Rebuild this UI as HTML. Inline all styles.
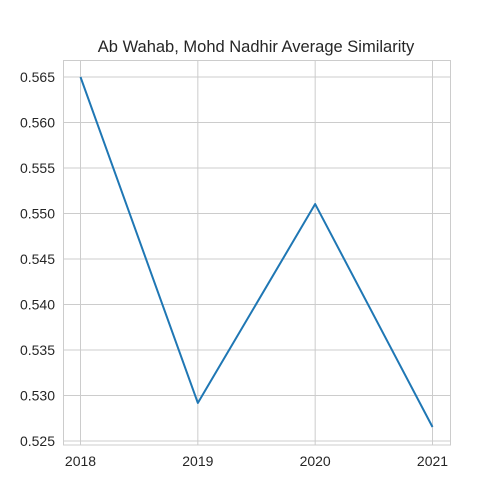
<!DOCTYPE html>
<html><head><meta charset="utf-8"><style>
body{margin:0;background:#fff;}
svg{display:block;font-family:"Liberation Sans",sans-serif;}
</style></head><body>
<svg id="chart" width="500" height="500">
<rect width="500" height="500" fill="#fff"/>
<text x="256" y="52" text-anchor="middle" font-size="16.5" fill="#262626">Ab Wahab, Mohd Nadhir Average Similarity</text>
<g id="grid"></g><g id="ticks"></g>
<rect x="63.5" y="60.5" width="387" height="384.5" fill="none" stroke="#cccccc" stroke-width="1"/>
<g id="series"></g>
</svg>
<script>
const categories=[2018,2019,2020,2021];
const values=[0.565,0.52918,0.55104,0.52654];
const yTicks=[0.525,0.530,0.535,0.540,0.545,0.550,0.555,0.560,0.565];
const NS="http://www.w3.org/2000/svg";
function x(i){return 80.5+(i-2018)*(432.5-80.5)/3;}
function y(v){return 77+(0.565-v)*9100;}
function mk(t,a,p){const e=document.createElementNS(NS,t);for(const k in a)e.setAttribute(k,a[k]);p.appendChild(e);return e;}
const grid=document.getElementById('grid'),ticks=document.getElementById('ticks'),series=document.getElementById('series');
yTicks.forEach(v=>{
const l=mk('line',{x1:63.5,x2:450.5,y1:y(v),y2:y(v),stroke:'#cccccc','stroke-width':1},grid);


const t=mk('text',{x:55,y:y(v)+5,'text-anchor':'end','font-size':14,fill:'#262626'},ticks);
t.textContent=v.toFixed(3);


});
categories.forEach(c=>{
const l=mk('line',{x1:x(c),x2:x(c),y1:60.5,y2:445,stroke:'#cccccc','stroke-width':1},grid);


const t=mk('text',{x:x(c),y:466,'text-anchor':'middle','font-size':14,fill:'#262626'},ticks);
t.textContent=c;


});
const p=mk('polyline',{points:categories.map((c,i)=>x(c)+','+y(values[i])).join(' '),fill:'none',stroke:'#1f77b4','stroke-width':2,'stroke-linejoin':'round'},series);


</script>
</body></html>
